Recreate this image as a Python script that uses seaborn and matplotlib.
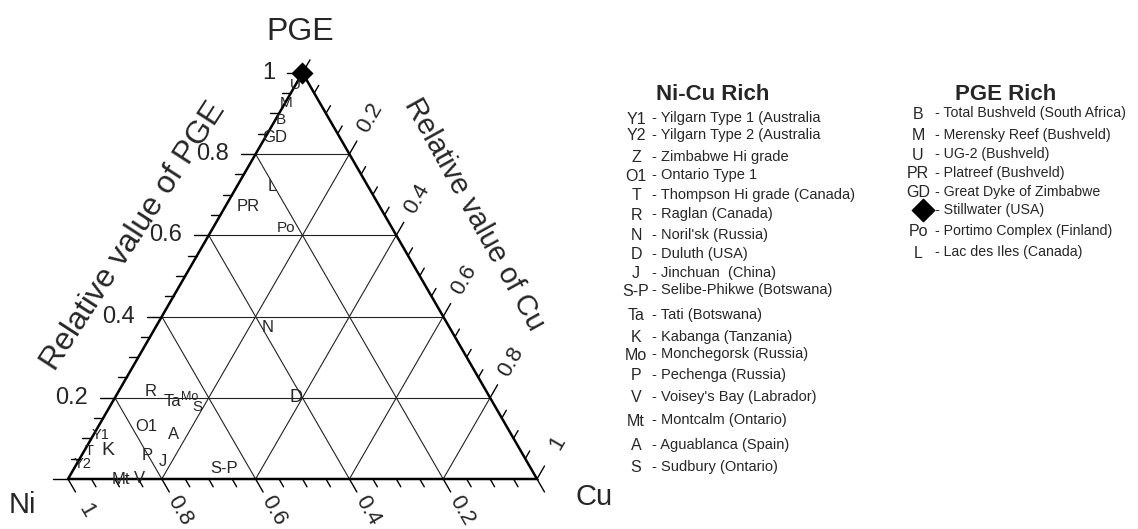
# Ternary plot: Ni - Cu - PGE (relative values)

import numpy as np
import pandas as pd
import matplotlib
matplotlib.use('Agg')
import matplotlib.pyplot as plt
import seaborn as sns

# deposit labels plotted inside the triangle (relative PGE, relative Cu)
codes = ['U', 'M', 'B', 'GD', 'L', 'PR', 'Po', 'N', 'R', 'Ta', 'Mo', 'S', 'D',
         'O1', 'A', 'P', 'J', 'S-P', 'Mt', 'V', 'Y1', 'T', 'K', 'Y2']
pge = [0.97, 0.925, 0.883, 0.84, 0.719, 0.672, 0.618, 0.373, 0.215, 0.19, 0.203, 0.178, 0.2,
       0.129, 0.109, 0.059, 0.042, 0.025, 0.0, 0.002, 0.108, 0.07, 0.07, 0.036]
cu = [0.0, 0.003, 0.013, 0.021, 0.075, 0.048, 0.156, 0.24, 0.069, 0.127, 0.157, 0.188, 0.386,
      0.102, 0.17, 0.139, 0.181, 0.32, 0.113, 0.152, 0.015, 0.01, 0.049, 0.012]
code_size = [11, 11, 11, 12, 12, 12, 11, 12, 12, 12, 9, 11, 13,
             12, 12, 12, 12, 12, 12, 12, 10.5, 10.5, 14, 10.5]

# Stillwater (diamond)
still_pge = [1.0]
still_cu = [0.0]

nicu_codes = ['Y1', 'Y2', 'Z', 'O1', 'T', 'R', 'N', 'D', 'J', 'S-P', 'Ta', 'K', 'Mo',
              'P', 'V', 'Mt', 'A', 'S']
nicu_names = ['Yilgarn Type 1 (Australia', 'Yilgarn Type 2 (Australia', 'Zimbabwe Hi grade',
              'Ontario Type 1', 'Thompson Hi grade (Canada)', 'Raglan (Canada)',
              "Noril'sk (Russia)", 'Duluth (USA)', 'Jinchuan  (China)',
              'Selibe-Phikwe (Botswana)', 'Tati (Botswana)', 'Kabanga (Tanzania)',
              'Monchegorsk (Russia)', 'Pechenga (Russia)', "Voisey's Bay (Labrador)",
              'Montcalm (Ontario)', 'Aguablanca (Spain)', 'Sudbury (Ontario)']
nicu_rows = [118, 135, 157, 175, 195, 214, 235, 254, 273, 290, 315, 337, 354, 375, 397, 420, 445, 467]

pge_codes = ['B', 'M', 'U', 'PR', 'GD', '', 'Po', 'L']
pge_names = ['Total Bushveld (South Africa)', 'Merensky Reef (Bushveld)', 'UG-2 (Bushveld)',
             'Platreef (Bushveld)', 'Great Dyke of Zimbabwe', 'Stillwater (USA)',
             'Portimo Complex (Finland)', 'Lac des Iles (Canada)']
pge_rows = [113, 135, 154, 173, 192, 210, 231, 252]

sns.set_style('white')
plt.rcParams['font.family'] = ['Liberation Sans', 'DejaVu Sans']

W, H = 1138, 529
S = 469.0        # pixels per unit side
X0, Y0 = 68, 479  # Ni corner in pixels
h = np.sqrt(3) / 2


def xy(p, c):
    return c + p / 2, p * h


fig = plt.figure(figsize=(W / 100, H / 100), dpi=100)
ax = fig.add_axes([0, 0, 1, 1])
ax.set_xlim(-X0 / S, (W - X0) / S)
ax.set_ylim(-(H - Y0) / S, Y0 / S)
ax.axis('off')

# grid
for g in [0.2, 0.4, 0.6, 0.8]:
    ax.plot([g / 2, 1 - g / 2], [g * h, g * h], color='#222222', lw=0.8)
    ax.plot([g, (1 + g) / 2], [0, (1 - g) * h], color='#222222', lw=0.8)
    ax.plot([1 - g, (1 - g) / 2], [0, (1 - g) * h], color='#222222', lw=0.8)

# frame
ax.plot([0, 1, 0.5, 0], [0, 0, h, 0], color='black', lw=1.8, solid_joinstyle='miter')

# ticks
for i in range(21):
    v = i * 0.05
    major = i % 4 == 0
    L = (15 if major else 9) / S
    # PGE (left edge), horizontal ticks
    x, y = v / 2, v * h
    ax.plot([x - L, x], [y, y], color='black', lw=1.0)
    # Ni (bottom), down-right ticks
    x, y = 1 - v, 0
    ax.plot([x, x + 0.5 * L], [y, y - h * L], color='black', lw=1.0)
    # Cu (right edge), up-right ticks
    x, y = (1 + v) / 2, (1 - v) * h
    ax.plot([x, x + 0.5 * L], [y, y + h * L], color='black', lw=1.0)

for v in [0.2, 0.4, 0.6, 0.8, 1.0]:
    lab = '1' if v == 1.0 else f'{v:.1f}'
    x, y = v / 2, v * h
    ax.text(x - 27 / S, y, lab, ha='right', va='center', fontsize=17)
    x = 1 - v
    ax.text(x + 0.5 * 36 / S, -h * 36 / S, lab, ha='center', va='center',
            fontsize=16, rotation=-60, rotation_mode='anchor')
    x, y = (1 + v) / 2, (1 - v) * h
    ax.text(x + 0.5 * 42 / S, y + h * 42 / S, lab, ha='center', va='center',
            fontsize=16, rotation=60, rotation_mode='anchor')

# deposit labels
df = pd.DataFrame({'code': codes, 'pge': pge, 'cu': cu, 'size': code_size})
df['x'], df['y'] = xy(df['pge'], df['cu'])
for _, r in df.iterrows():
    ax.text(r['x'], r['y'], r['code'], ha='center', va='center', fontsize=r['size'])

st = pd.DataFrame({'pge': still_pge, 'cu': still_cu})
st['x'], st['y'] = xy(st['pge'], st['cu'])
sns.scatterplot(data=st, x='x', y='y', marker='D', s=150, color='black', ax=ax, legend=False)


# axis titles
def ftxt(px, py, s, **kw):
    fig.text(px / W, 1 - py / H, s, **kw)


ftxt(300, 32, 'PGE', ha='center', va='center', fontsize=23)
ftxt(22, 505, 'Ni', ha='center', va='center', fontsize=21)
ftxt(594, 497, 'Cu', ha='center', va='center', fontsize=21)
ftxt(134, 236, 'Relative value of PGE', ha='center', va='center', fontsize=23, rotation=57)
ftxt(474, 214, 'Relative value of Cu', ha='center', va='center', fontsize=21, rotation=-61)

# legends
ftxt(713, 94, 'Ni-Cu Rich', ha='center', va='center', fontsize=16, fontweight='bold')
for c, n, r in zip(nicu_codes, nicu_names, nicu_rows):
    ftxt(636, r + 1, c, ha='center', va='center', fontsize=11.5)
    ftxt(652, r, '- ' + n, ha='left', va='center', fontsize=10.5)

ftxt(1006, 94, 'PGE Rich', ha='center', va='center', fontsize=16, fontweight='bold')
for c, n, r in zip(pge_codes, pge_names, pge_rows):
    ftxt(918, r + 1, c, ha='center', va='center', fontsize=11.5)
    ftxt(935, r, '- ' + n, ha='left', va='center', fontsize=10.2)
ax.scatter([(923 - X0) / S], [(Y0 - 210) / S], marker='D', s=130, color='black')

fig.savefig('out.png', dpi=100)
